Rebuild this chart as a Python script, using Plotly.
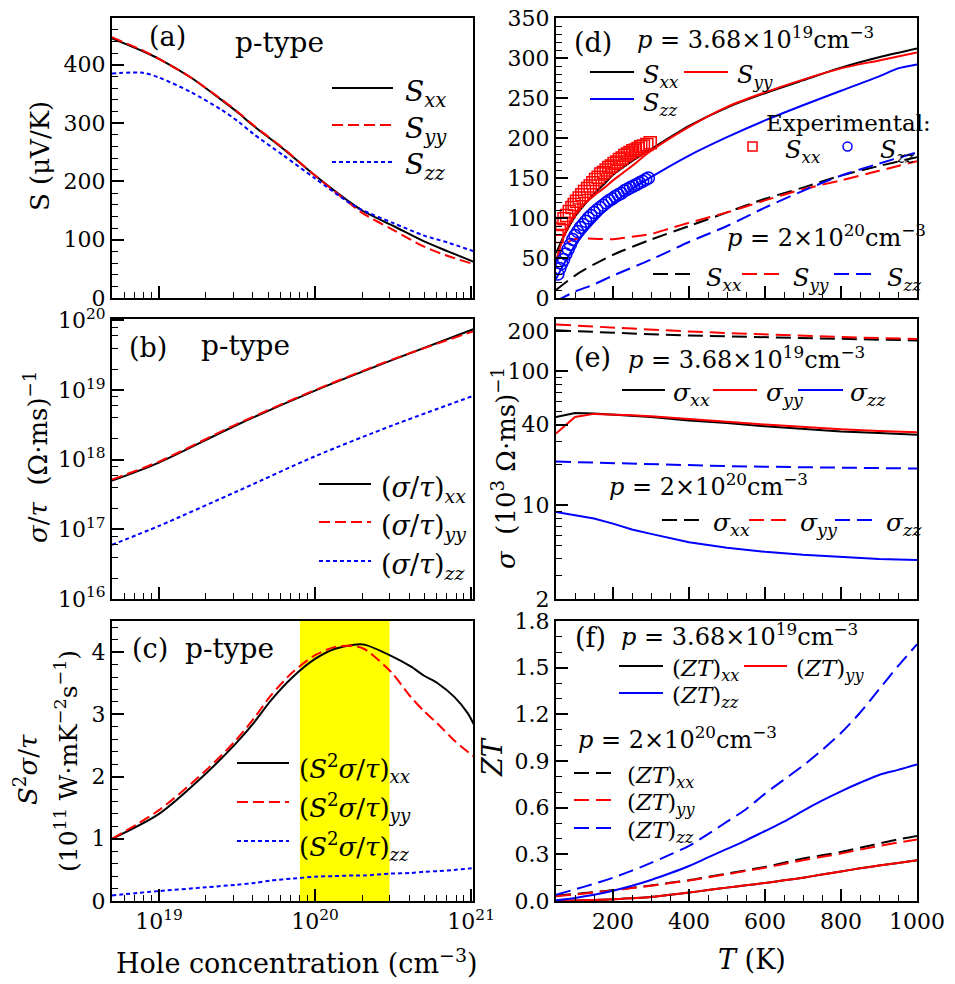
import plotly.graph_objects as go

# The page body has an 8 px default margin, so the figure is drawn 8 px in from
# the window's top-left corner; all pixel positions below are window pixels.
OFF = 8
W, H = 955 - OFF, 984 - OFF
FONT = "DejaVu Serif"

# ---------------- data ----------------
# (a) Seebeck vs hole concentration
P_A = [5.0e18, 7.9e18, 1.0e19, 1.6e19, 2.5e19, 3.2e19, 4.0e19, 6.3e19, 1.0e20,
       1.6e20, 2.0e20, 3.2e20, 5.0e20, 7.1e20, 1.04e21]
S_XX_A = [445, 423, 410, 378, 340, 318, 296, 255, 210, 168, 150, 123, 97, 80, 62]
S_YY_A = [447, 424, 410, 378, 341, 319, 297, 256, 210, 166, 146, 116, 88, 72, 58]
S_ZZ_A = [385, 386, 378, 353, 323, 303, 282, 244, 205, 166, 151, 128, 107, 95, 80]

# (b) sigma/tau vs hole concentration
P_B = [5.0e18, 1.0e19, 3.2e19, 1.0e20, 3.2e20, 1.04e21]
SIG_XX_B = [5.0e17, 9.1e17, 3.2e18, 9.8e18, 2.75e19, 7.5e19]
SIG_YY_B = [5.2e17, 9.4e17, 3.3e18, 1.0e19, 2.8e19, 7.0e19]
SIG_ZZ_B = [6.0e16, 1.12e17, 3.55e17, 1.12e18, 3.16e18, 8.3e18]

# (c) power factor / tau vs hole concentration
P_C = [5.0e18, 1.0e19, 2.0e19, 3.1e19, 4.1e19, 5.2e19, 7.2e19, 1.0e20, 1.33e20,
       1.78e20, 2.07e20, 3.07e20, 4.1e20, 5.0e20, 6.1e20, 7.8e20, 9.5e20, 1.04e21]
PF_XX_C = [1.00, 1.40, 2.05, 2.53, 2.88, 3.22, 3.60, 3.89, 4.05, 4.12, 4.12, 3.94,
           3.77, 3.62, 3.50, 3.28, 3.02, 2.84]
PF_YY_C = [1.00, 1.46, 2.10, 2.58, 2.95, 3.30, 3.68, 3.95, 4.08, 4.10, 4.05, 3.68,
           3.28, 3.05, 2.85, 2.58, 2.40, 2.32]
PF_ZZ_C = [0.09, 0.16, 0.22, 0.26, 0.29, 0.33, 0.36, 0.39, 0.40, 0.41, 0.41, 0.44,
           0.45, 0.47, 0.48, 0.50, 0.52, 0.53]
BAND_P = [8.0e19, 3.0e20]

# (d) Seebeck vs temperature
T_D_XX = [50, 70, 85, 100, 120, 140, 160, 180, 200, 225, 250, 275, 300, 400, 500, 600, 700, 800, 900, 1000]
S_XX_D1 = [56, 77, 90, 102, 114, 125, 135, 144, 154, 163, 171, 179, 186, 215, 238, 256, 272, 288, 301, 312]
T_D_YY = [50, 60, 70, 80, 90, 100, 125, 150, 175, 200, 225, 250, 300, 400, 500, 600, 700, 800, 900, 1000]
S_YY_D1 = [46, 62, 76, 88, 97, 105, 118, 128, 137, 147, 156, 165, 184, 214, 239, 257, 273, 287, 297, 307]
T_D_ZZ = [50, 100, 150, 200, 250, 300, 400, 500, 600, 700, 800, 900, 950, 1000]
S_ZZ_D1 = [24, 66, 95, 118, 136, 151, 178, 201, 222, 241, 259, 277, 287, 292]
T_D2 = [50, 100, 150, 200, 300, 400, 500, 600, 700, 800, 900, 1000]
S_XX_D2 = [10, 28, 42, 54, 73, 90, 107, 124, 138, 153, 165, 176]
S_ZZ_D2 = [-4, 8, 17, 28, 48, 70, 90, 113, 134, 153, 168, 182]
T_D2_YY = [50, 70, 90, 110, 150, 200, 250, 300, 350, 400, 500, 600, 700, 800, 900, 1000]
S_YY_D2 = [45, 64, 72, 74.5, 74, 73.5, 76.5, 80, 87, 94, 107, 122, 136, 147, 159, 171]
T_EXP_XX = [53, 59, 65, 71, 78, 85, 92, 98, 104, 111, 118, 125, 133, 140, 147, 154, 161, 168,
            175, 182, 189, 196, 203, 210, 217, 224, 231, 238, 245, 252, 259, 266, 273, 280, 289, 298]
S_EXP_XX = [77, 86, 93, 99, 103, 108, 113, 117, 121, 125, 129, 133, 137, 140, 144, 148, 151, 155,
            157, 160, 163, 165, 168, 170, 173, 175, 178, 180, 182, 184, 185, 187, 189, 190, 192, 194]
T_EXP_ZZ = [55, 60, 65, 70, 76, 82, 88, 94, 100, 107, 114, 121, 128, 135, 142, 150, 158, 166,
            174, 182, 190, 198, 206, 214, 222, 230, 238, 246, 254, 262, 270, 278, 286, 293]
S_EXP_ZZ = [30, 37, 43, 48, 55, 61, 67, 73, 78, 83, 88, 92, 96, 100, 103, 107, 110, 113,
            116, 119, 122, 124, 127, 129, 131, 134, 136, 138, 140, 142, 144, 146, 148, 150]

# (e) conductivity vs temperature (10^3 (Ohm m s)^-1)
T_E = [50, 100, 150, 200, 250, 300, 400, 500, 600, 700, 800, 900, 1000]
SIG_XX_E1 = [45.6, 48.9, 48.4, 47.5, 46.5, 45.6, 43.0, 41.2, 38.9, 37.1, 35.6, 34.6, 33.6]
SIG_YY_E1 = [34.3, 45.6, 48.1, 47.8, 47.0, 46.2, 43.8, 42.0, 40.0, 38.2, 36.9, 35.8, 35.1]
SIG_ZZ_E1 = [8.9, 8.4, 7.96, 7.3, 6.6, 6.12, 5.3, 4.82, 4.5, 4.27, 4.1, 3.97, 3.9]
SIG_XX_E2 = [202, 199, 196, 194, 191, 189, 185, 182, 179, 176, 174, 172, 170]
SIG_YY_E2 = [223, 219, 215, 211, 207, 204, 198, 193, 188, 184, 180, 177, 174]
SIG_ZZ_E2 = [21.2, 21.0, 20.8, 20.6, 20.4, 20.2, 19.9, 19.6, 19.4, 19.2, 19.0, 18.9, 18.8]

# (f) ZT vs temperature
T_F = [50, 100, 150, 200, 250, 300, 350, 400, 450, 500, 550, 600, 650, 700, 750, 800, 850, 900, 950, 1000]
ZT_XX_F1 = [0.0, 0.003, 0.007, 0.011, 0.018, 0.026, 0.04, 0.054, 0.07, 0.086, 0.101, 0.116,
            0.133, 0.15, 0.17, 0.19, 0.21, 0.228, 0.245, 0.262]
ZT_YY_F1 = [0.0, 0.003, 0.007, 0.011, 0.018, 0.026, 0.04, 0.054, 0.07, 0.086, 0.101, 0.116,
            0.133, 0.15, 0.17, 0.19, 0.21, 0.228, 0.245, 0.262]
ZT_ZZ_F1 = [0.005, 0.02, 0.04, 0.066, 0.098, 0.135, 0.178, 0.225, 0.28, 0.335, 0.39, 0.45,
            0.51, 0.58, 0.645, 0.705, 0.76, 0.81, 0.843, 0.878]
ZT_XX_F2 = [0.034, 0.045, 0.057, 0.07, 0.085, 0.10, 0.117, 0.134, 0.155, 0.176, 0.197, 0.219,
            0.246, 0.273, 0.294, 0.315, 0.342, 0.369, 0.396, 0.418]
ZT_YY_F2 = [0.03, 0.042, 0.055, 0.068, 0.083, 0.098, 0.115, 0.132, 0.152, 0.172, 0.193, 0.214,
            0.238, 0.262, 0.284, 0.305, 0.33, 0.354, 0.376, 0.395]
ZT_ZZ_F2 = [0.04, 0.075, 0.11, 0.15, 0.195, 0.245, 0.298, 0.355, 0.43, 0.51, 0.59, 0.69,
            0.78, 0.87, 0.97, 1.08, 1.21, 1.36, 1.51, 1.65]

# ---------------- styling helpers ----------------
BLACK, RED, BLUE = "#000000", "#ff0000", "#0000ff"
DASH_A = "11px,5px"
DOT_A = "4px,3px"
DASH_T = "15px,7px"

def px2x(px):
    return (px - OFF) / W

def py2y(py):
    return 1 - (py - OFF) / H

XL = [px2x(112), px2x(473)]
XR = [px2x(556), px2x(917)]
YA = [py2y(298), py2y(18)]
YB = [py2y(599), py2y(319)]
YC = [py2y(901), py2y(621)]

TICKSIZE = 22

def axis(domain, anchor, **kw):
    d = dict(domain=domain, anchor=anchor, showline=True, linecolor="black", linewidth=2,
             mirror=True, ticks="inside", ticklen=12, tickwidth=1.6, tickcolor="black",
             showgrid=False, zeroline=False, automargin=False, ticklabeloverflow="allow",
             tickfont=dict(family=FONT, size=TICKSIZE, color="black"))
    d.update(kw)
    return d

def minor(**kw):
    d = dict(ticks="inside", ticklen=6, tickwidth=1.3, tickcolor="black", showgrid=False)
    d.update(kw)
    return d

LOG_MINOR_X = [m * 10.0 ** e for e in (18, 19, 20) for m in range(2, 10)]
LOG_MINOR_B = [m * 10.0 ** e for e in (16, 17, 18, 19) for m in (2, 4, 6, 8)]
E_MINOR = [3, 4, 5, 6, 7, 8, 9, 20, 30, 50, 60, 70, 80, 90]

fig = go.Figure()

def line(x, y, color, dash, xa, ya, width=2, shape="spline"):
    ln = dict(color=color, dash=dash, width=width, shape=shape)
    if shape == "spline":
        ln["smoothing"] = 0.8
    fig.add_trace(go.Scatter(x=x, y=y, mode="lines", xaxis=xa, yaxis=ya, line=ln,
                             showlegend=False, hoverinfo="skip"))

# (a)
line(P_A, S_XX_A, BLACK, "solid", "x", "y")
line(P_A, S_YY_A, RED, DASH_A, "x", "y")
line(P_A, S_ZZ_A, BLUE, DOT_A, "x", "y")
# (b)
line(P_B, SIG_XX_B, BLACK, "solid", "x2", "y2")
line(P_B, SIG_YY_B, RED, DASH_A, "x2", "y2")
line(P_B, SIG_ZZ_B, BLUE, DOT_A, "x2", "y2")
# (c)
fig.add_trace(go.Scatter(x=[BAND_P[0], BAND_P[0], BAND_P[1], BAND_P[1]], y=[0, 4.5, 4.5, 0],
                         mode="lines", fill="toself", fillcolor="#ffff00",
                         line=dict(width=0, color="#ffff00"), xaxis="x3", yaxis="y3",
                         showlegend=False, hoverinfo="skip"))
line(P_C, PF_XX_C, BLACK, "solid", "x3", "y3")
line(P_C, PF_YY_C, RED, DASH_A, "x3", "y3")
line(P_C, PF_ZZ_C, BLUE, DOT_A, "x3", "y3")
# (d)
line(T_D2, S_XX_D2, BLACK, DASH_T, "x4", "y4")
line(T_D2_YY, S_YY_D2, RED, DASH_T, "x4", "y4")
line(T_D2, S_ZZ_D2, BLUE, DASH_T, "x4", "y4")
line(T_D_XX, S_XX_D1, BLACK, "solid", "x4", "y4")
line(T_D_YY, S_YY_D1, RED, "solid", "x4", "y4")
line(T_D_ZZ, S_ZZ_D1, BLUE, "solid", "x4", "y4")
fig.add_trace(go.Scatter(x=T_EXP_XX, y=S_EXP_XX, mode="markers", xaxis="x4", yaxis="y4",
                         marker=dict(symbol="square-open", size=12, color=RED, line=dict(width=1.5)),
                         showlegend=False, hoverinfo="skip"))
fig.add_trace(go.Scatter(x=T_EXP_ZZ, y=S_EXP_ZZ, mode="markers", xaxis="x4", yaxis="y4",
                         marker=dict(symbol="circle-open", size=12, color=BLUE, line=dict(width=1.5)),
                         showlegend=False, hoverinfo="skip"))
# (e)
line(T_E, SIG_XX_E2, BLACK, DASH_T, "x5", "y5", shape="linear")
line(T_E, SIG_YY_E2, RED, DASH_T, "x5", "y5", shape="linear")
line(T_E, SIG_ZZ_E2, BLUE, DASH_T, "x5", "y5", shape="linear")
line(T_E, SIG_XX_E1, BLACK, "solid", "x5", "y5", shape="linear")
line(T_E, SIG_YY_E1, RED, "solid", "x5", "y5", shape="linear")
line(T_E, SIG_ZZ_E1, BLUE, "solid", "x5", "y5", shape="linear")
# (f)
line(T_F, ZT_XX_F2, BLACK, DASH_T, "x6", "y6")
line(T_F, ZT_YY_F2, RED, DASH_T, "x6", "y6")
line(T_F, ZT_ZZ_F2, BLUE, DASH_T, "x6", "y6")
line(T_F, ZT_XX_F1, BLACK, "solid", "x6", "y6")
line(T_F, ZT_YY_F1, RED, "solid", "x6", "y6")
line(T_F, ZT_ZZ_F1, BLUE, "solid", "x6", "y6")

# ---------------- axes ----------------
XLOG_RANGE = [18.699, 21.012]
pow_txt = lambda e: "10<sup>%d</sup>" % e

layout_axes = dict(
    xaxis=axis(XL, "y", type="log", range=XLOG_RANGE, tickmode="array",
               tickvals=[1e19, 1e20, 1e21], showticklabels=False,
               minor=minor(tickvals=LOG_MINOR_X)),
    yaxis=axis(YA, "x", range=[0, 480], dtick=100, tick0=0, minor=minor(dtick=20)),
    xaxis2=axis(XL, "y2", type="log", range=XLOG_RANGE, tickmode="array",
                tickvals=[1e19, 1e20, 1e21], showticklabels=False,
                minor=minor(tickvals=LOG_MINOR_X)),
    yaxis2=axis(YB, "x2", type="log", range=[16, 20.02], tickmode="array",
                tickvals=[1e16, 1e17, 1e18, 1e19, 1e20],
                ticktext=[pow_txt(e) for e in (16, 17, 18, 19, 20)],
                minor=minor(tickvals=LOG_MINOR_B)),
    xaxis3=axis(XL, "y3", type="log", range=XLOG_RANGE, tickmode="array",
                tickvals=[1e19, 1e20, 1e21],
                ticktext=[pow_txt(e) for e in (19, 20, 21)],
                minor=minor(tickvals=LOG_MINOR_X)),
    yaxis3=axis(YC, "x3", range=[0, 4.5], dtick=1, tick0=0, minor=minor(dtick=0.2)),
    xaxis4=axis(XR, "y4", range=[50, 1000], dtick=200, tick0=0, showticklabels=False,
                minor=minor(dtick=50, tick0=0)),
    yaxis4=axis(YA, "x4", range=[0, 350], dtick=50, tick0=0, minor=minor(dtick=10)),
    xaxis5=axis(XR, "y5", range=[50, 1000], dtick=200, tick0=0, showticklabels=False,
                minor=minor(dtick=50, tick0=0)),
    yaxis5=axis(YB, "x5", type="log", range=[0.30103, 2.39], tickmode="array",
                tickvals=[2, 10, 40, 100, 200], ticktext=["2", "10", "40", "100", "200"],
                minor=minor(tickvals=E_MINOR)),
    xaxis6=axis(XR, "y6", range=[50, 1000], dtick=200, tick0=0,
                minor=minor(dtick=50, tick0=0)),
    yaxis6=axis(YC, "x6", range=[0, 1.8], dtick=0.3, tick0=0, tickformat=".1f",
                minor=minor(dtick=0.1)),
)

# ---------------- annotations & legend keys ----------------
ann = []
shapes = []

def txt(px, py, s, size=24, xanchor="left", yanchor="middle", angle=0):
    ann.append(dict(x=px2x(px), y=py2y(py), xref="paper", yref="paper", text=s,
                    showarrow=False, xanchor=xanchor, yanchor=yanchor, textangle=angle,
                    borderpad=0, font=dict(family=FONT, size=size, color="black")))

def seg(x0, x1, py, color, dash):
    shapes.append(dict(type="line", xref="paper", yref="paper", x0=px2x(x0), x1=px2x(x1),
                       y0=py2y(py), y1=py2y(py), line=dict(color=color, width=2, dash=dash)))

def sub(base, s):
    return base + "<sub><i>" + s + "</i></sub>"

S_ = "<i>S</i>"
SIG = "<i>σ</i>"
P368 = "<i>p</i> = 3.68×10<sup>19</sup>cm<sup>−3</sup>"
P2 = "<i>p</i> = 2×10<sup>20</sup>cm<sup>−3</sup>"

# panel (a)
txt(148, 37, "(a)", 27)
txt(234, 42, "p-type", 28)
for yy, c, d, s in [(88, BLACK, "solid", "xx"), (125, RED, DASH_A, "yy"), (162, BLUE, DOT_A, "zz")]:
    seg(332, 393, yy, c, d)
    txt(404, yy + 5, sub(S_, s), 28)
# panel (b)
txt(128, 347, "(b)", 27)
txt(200, 345, "p-type", 28)
for yy, c, d, s in [(484, BLACK, "solid", "xx"), (522, RED, DASH_A, "yy"), (561, BLUE, DOT_A, "zz")]:
    seg(319, 371, yy, c, d)
    txt(380, yy + 5, sub("(" + SIG + "/<i>τ</i>)", s), 27)
# panel (c)
txt(131, 648, "(c)", 27)
txt(184, 648, "p-type", 28)
for yy, c, d, s in [(763, BLACK, "solid", "xx"), (802, RED, DASH_A, "yy"), (841, BLUE, DOT_A, "zz")]:
    seg(237, 289, yy, c, d)
    txt(298, yy + 5, sub("(" + S_ + "<sup>2</sup>" + SIG + "/<i>τ</i>)", s), 26)

# panel (d)
txt(573, 42, "(d)", 27)
txt(636, 38, P368, 24)
seg(590, 634, 72, BLACK, "solid"); txt(642, 76, sub(S_, "xx"), 24)
seg(684, 728, 72, RED, "solid"); txt(736, 76, sub(S_, "yy"), 24)
seg(590, 634, 99, BLUE, "solid"); txt(642, 104, sub(S_, "zz"), 24)
txt(765, 123, "Experimental:", 23)
shapes.append(dict(type="rect", xref="paper", yref="paper", x0=px2x(748), x1=px2x(757),
                   y0=py2y(151), y1=py2y(142), line=dict(color=RED, width=1.5)))
txt(784, 151, sub(S_, "xx"), 24)
shapes.append(dict(type="circle", xref="paper", yref="paper", x0=px2x(843), x1=px2x(852),
                   y0=py2y(151), y1=py2y(142), line=dict(color=BLUE, width=1.5)))
txt(879, 151, sub(S_, "zz"), 24)
txt(726, 236, P2, 24)
seg(653, 692, 274, BLACK, DASH_T); txt(705, 279, sub(S_, "xx"), 24)
seg(742, 782, 274, RED, DASH_T); txt(792, 279, sub(S_, "yy"), 24)
seg(834, 874, 274, BLUE, DASH_T); txt(886, 279, sub(S_, "zz"), 24)

# panel (e)
txt(573, 357, "(e)", 27)
txt(627, 358, P368, 24)
seg(622, 665, 390, BLACK, "solid"); txt(672, 394, sub(SIG, "xx"), 25)
seg(713, 757, 390, RED, "solid"); txt(765, 394, sub(SIG, "yy"), 25)
seg(798, 843, 390, BLUE, "solid"); txt(849, 394, sub(SIG, "zz"), 25)
txt(608, 485, P2, 24)
seg(662, 702, 520, BLACK, DASH_T); txt(712, 524, sub(SIG, "xx"), 25)
seg(749, 789, 520, RED, DASH_T); txt(799, 524, sub(SIG, "yy"), 25)
seg(835, 875, 520, BLUE, DASH_T); txt(885, 524, sub(SIG, "zz"), 25)

# panel (f)
ZT = "(<i>ZT</i>)"
txt(574, 637, "(f)", 27)
txt(620, 635, P368, 24)
seg(619, 663, 666, BLACK, "solid"); txt(671, 670, sub(ZT, "xx"), 23)
seg(744, 787, 666, RED, "solid"); txt(795, 670, sub(ZT, "yy"), 23)
seg(619, 663, 693, BLUE, "solid"); txt(671, 697, sub(ZT, "zz"), 23)
txt(577, 738, P2, 24)
for yy, c, s in [(773, BLACK, "xx"), (800, RED, "yy"), (828, BLUE, "zz")]:
    seg(574, 615, yy, c, DASH_T)
    txt(626, yy + 4, sub(ZT, s), 23)

# axis titles
txt(40, 156, "S (μV/K)", 26, xanchor="center", angle=-90)
txt(36, 457, SIG + "/<i>τ</i>  (Ω·ms)<sup>−1</sup>", 26, xanchor="center", angle=-90)
txt(26, 770, S_ + "<sup>2</sup>" + SIG + "/<i>τ</i>", 26, xanchor="center", angle=-90)
txt(66, 761, "(10<sup>11</sup> W·mK<sup>−2</sup>s<sup>−1</sup>)", 25, xanchor="center", angle=-90)
txt(296, 961, "Hole concentration (cm<sup>−3</sup>)", 27, xanchor="center")
txt(504, 468, SIG + "  (10<sup>3</sup> Ω·ms)<sup>−1</sup>", 26, xanchor="center", angle=-90)
txt(492, 757, "<i>ZT</i>", 27, xanchor="center", angle=-90)
txt(752, 959, "<i>T</i> (K)", 27, xanchor="center")

fig.update_layout(
    width=W, height=H, margin=dict(l=0, r=0, t=0, b=0, pad=0, autoexpand=False),
    paper_bgcolor="white", plot_bgcolor="white",
    font=dict(family=FONT, color="black"),
    annotations=ann, shapes=shapes, showlegend=False,
    **layout_axes,
)

fig.write_html("out.html")
